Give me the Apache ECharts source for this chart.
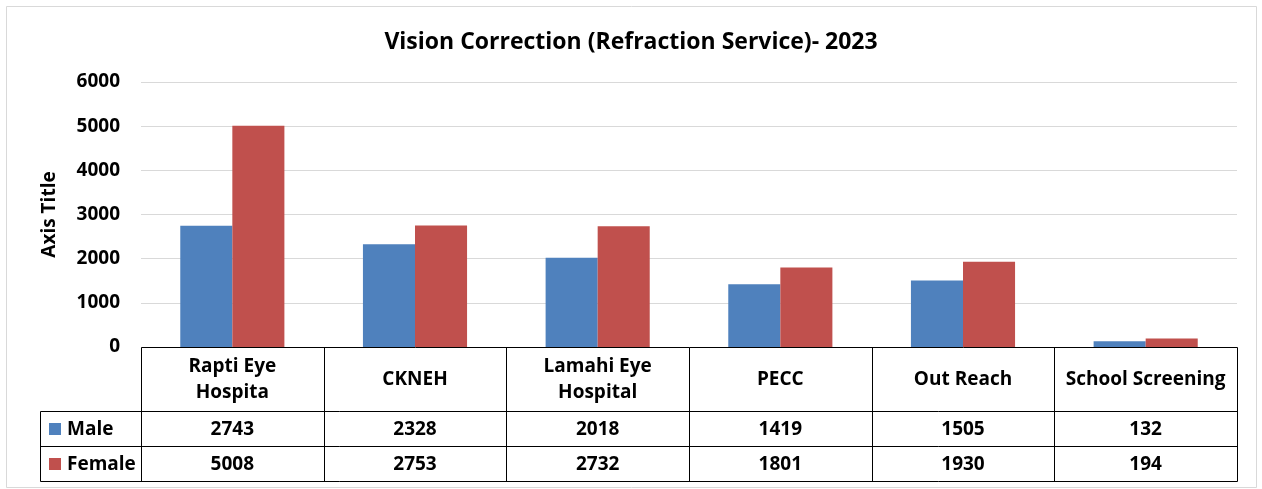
<!DOCTYPE html>
<html>
<head>
<meta charset="utf-8">
<script src="https://cdn.jsdelivr.net/npm/echarts@6/dist/echarts.min.js"></script>
<style>
  html, body { margin: 0; padding: 0; background: #fff; }
  #chart { width: 1262px; height: 489px; }
</style>
</head>
<body>
<div id="chart"></div>
<script>
// data
const categories = ['Rapti Eye Hospita', 'CKNEH', 'Lamahi Eye Hospital', 'PECC', 'Out Reach', 'School Screening'];
const headerLabels = ['Rapti Eye\nHospita', 'CKNEH', 'Lamahi Eye\nHospital', 'PECC', 'Out Reach', 'School Screening'];
const maleValues = [2743, 2328, 2018, 1419, 1505, 132];
const femaleValues = [5008, 2753, 2732, 1801, 1930, 194];
const seriesNames = ['Male', 'Female'];
const seriesColors = ['#4F81BD', '#C0504D'];

const FONT = '"Open Sans", "Noto Sans", sans-serif';

// layout of the plot + data table
const plotLeft = 141, plotRight = 1237, plotTop = 82, plotBottom = 347;
const tableLeft = 40;
const headerBottom = 411, maleBottom = 446, femaleBottom = 481;

const chart = echarts.init(document.getElementById('chart'));

const option = {
  backgroundColor: '#fff',
  animation: false,
  title: {
    text: 'Vision Correction (Refraction Service)- 2023',
    left: 'center',
    top: 26,
    textStyle: { fontFamily: FONT, fontSize: 23, fontWeight: 'bold', color: '#000' }
  },
  grid: {
    left: plotLeft,
    right: 1262 - plotRight,
    top: plotTop,
    bottom: 489 - plotBottom
  },
  xAxis: {
    type: 'category',
    data: categories,
    axisLine: { show: false },
    axisTick: { show: false },
    axisLabel: { show: false }
  },
  yAxis: {
    type: 'value',
    min: 0,
    max: 6000,
    interval: 1000,
    name: 'Axis Title',
    nameLocation: 'middle',
    nameGap: 82,
    nameRotate: 90,
    nameTextStyle: { fontFamily: FONT, fontSize: 19, fontWeight: 'bold', color: '#000' },
    axisLine: { show: false },
    axisTick: { show: false },
    axisLabel: {
      fontFamily: FONT, fontSize: 19, fontWeight: 'bold', color: '#000', margin: 21,
      padding: [3, 0, 0, 0],
      formatter: v => String(v)
    },
    splitLine: { lineStyle: { color: '#D9D9D9', width: 1 } }
  },
  series: [
    {
      name: seriesNames[0],
      type: 'bar',
      data: maleValues,
      itemStyle: { color: seriesColors[0] },
      barGap: '0%',
      barCategoryGap: '43%'
    },
    {
      name: seriesNames[1],
      type: 'bar',
      data: femaleValues,
      itemStyle: { color: seriesColors[1] },
      barGap: '0%',
      barCategoryGap: '43%'
    }
  ]
};

chart.setOption(option);

// data table under the plot
const crisp = v => Math.round(v) + 0.5;
const lineStyle = { stroke: '#000', lineWidth: 1 };
const graphics = [];
const addLine = (x1, y1, x2, y2) => graphics.push({
  type: 'line', silent: true,
  shape: { x1: crisp(x1), y1: crisp(y1), x2: crisp(x2), y2: crisp(y2) },
  style: lineStyle
});
const addText = (text, x, y, align) => graphics.push({
  type: 'text', silent: true, x: x, y: y,
  style: {
    text: text, fill: '#000', font: 'bold 19px ' + FONT,
    align: align || 'center', verticalAlign: 'middle', lineHeight: 26
  }
});

// outer chart border
graphics.push({
  type: 'rect', silent: true,
  shape: { x: 6.5, y: 6.5, width: 1250, height: 481 },
  style: { fill: null, stroke: '#D9D9D9', lineWidth: 1 }
});

addLine(plotLeft, plotBottom, plotRight, plotBottom);
addLine(tableLeft, headerBottom, plotRight, headerBottom);
addLine(tableLeft, maleBottom, plotRight, maleBottom);
addLine(tableLeft, femaleBottom, plotRight, femaleBottom);
addLine(tableLeft, headerBottom, tableLeft, femaleBottom);

const colW = (plotRight - plotLeft) / categories.length;
for (let k = 0; k <= categories.length; k++) {
  addLine(plotLeft + k * colW, plotBottom, plotLeft + k * colW, femaleBottom);
}

categories.forEach((c, i) => {
  const cx = chart.convertToPixel({ xAxisIndex: 0 }, c);
  addText(headerLabels[i], cx, (plotBottom + headerBottom) / 2 + 1);
  addText(String(maleValues[i]), cx, (headerBottom + maleBottom) / 2 + 1);
  addText(String(femaleValues[i]), cx, (maleBottom + femaleBottom) / 2 + 1);
});

// series keys in the table
[[headerBottom, maleBottom], [maleBottom, femaleBottom]].forEach((r, j) => {
  const cy = (r[0] + r[1]) / 2;
  graphics.push({
    type: 'rect', silent: true,
    shape: { x: 49, y: Math.round(cy) - 6, width: 12, height: 12 },
    style: { fill: seriesColors[j] }
  });
  addText(seriesNames[j], 67, cy + 1, 'left');
});

chart.setOption({ graphic: graphics });
</script>
</body>
</html>
